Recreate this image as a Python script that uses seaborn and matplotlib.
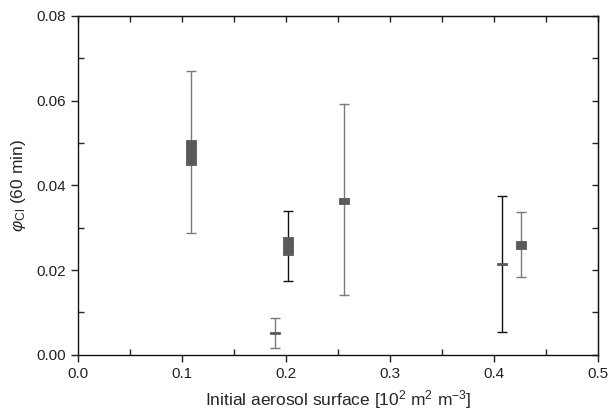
import matplotlib
matplotlib.use("Agg")
import matplotlib.pyplot as plt
import seaborn as sns
from matplotlib.ticker import MultipleLocator

# surface values and phi_Cl estimates
surface = [0.1084, 0.1898, 0.2018, 0.2560, 0.4073, 0.4260]
box_low = [0.0447, 0.0049, 0.0235, 0.0357, 0.0212, 0.0249]
box_high = [0.0506, 0.0051, 0.0277, 0.0370, 0.0214, 0.0269]
err_low = [0.0288, 0.0017, 0.0174, 0.0141, 0.0054, 0.0184]
err_high = [0.0671, 0.0086, 0.0340, 0.0593, 0.0374, 0.0337]
bar_colors = ["#7a7a7a", "#7a7a7a", "#111111", "#7a7a7a", "#111111", "#7a7a7a"]

sns.set_style("ticks")
plt.rcParams["font.family"] = ["Liberation Sans", "DejaVu Sans"]
plt.rcParams["mathtext.fontset"] = "custom"
plt.rcParams["mathtext.rm"] = "Liberation Sans"
plt.rcParams["mathtext.it"] = "Liberation Sans:italic"

fig = plt.figure(figsize=(6.09, 4.17), dpi=100)
ax = fig.add_axes([0.128, 0.149, 0.854, 0.813])

# whiskers
for x, lo, hi, c in zip(surface, err_low, err_high, bar_colors):
    mid = (lo + hi) / 2
    ax.errorbar([x], [mid], yerr=[[mid - lo], [hi - mid]], fmt="none",
                ecolor=c, elinewidth=1.0, capsize=3.5, capthick=1.0, zorder=2)

# boxes
heights = [max(h - l, 0.0004) for l, h in zip(box_low, box_high)]
ax.bar(surface, heights, bottom=box_low, width=0.0095, color="#5a5a5a",
       edgecolor="#5a5a5a", linewidth=0.6, zorder=3)

ax.set_xlim(0, 0.5)
ax.set_ylim(0, 0.08)
ax.xaxis.set_major_locator(MultipleLocator(0.1))
ax.xaxis.set_minor_locator(MultipleLocator(0.05))
ax.yaxis.set_major_locator(MultipleLocator(0.02))
ax.yaxis.set_minor_locator(MultipleLocator(0.01))
ax.xaxis.set_major_formatter(matplotlib.ticker.FormatStrFormatter("%.1f"))
ax.yaxis.set_major_formatter(matplotlib.ticker.FormatStrFormatter("%.2f"))
ax.tick_params(which="major", direction="out", length=5, width=1, labelsize=11, colors="#222222")
ax.tick_params(which="minor", direction="in", length=4, width=1)

# mirrored ticks on top and right
top = ax.secondary_xaxis("top")
top.xaxis.set_major_locator(MultipleLocator(0.05))
top.tick_params(direction="in", length=4, width=1, labeltop=False)
right = ax.secondary_yaxis("right")
right.yaxis.set_major_locator(MultipleLocator(0.01))
right.tick_params(direction="in", length=4, width=1, labelright=False)

for sp in ax.spines.values():
    sp.set_linewidth(1.0)
    sp.set_color("#111111")

ax.set_xlabel(r"Initial aerosol surface [10$^{2}$ m$^{2}$ m$^{-3}$]", fontsize=12.5, labelpad=5)
ax.set_ylabel(r"$\varphi_{\mathrm{Cl}}$ (60 min)", fontsize=12.5, labelpad=6)

fig.savefig("out.png", dpi=100)
